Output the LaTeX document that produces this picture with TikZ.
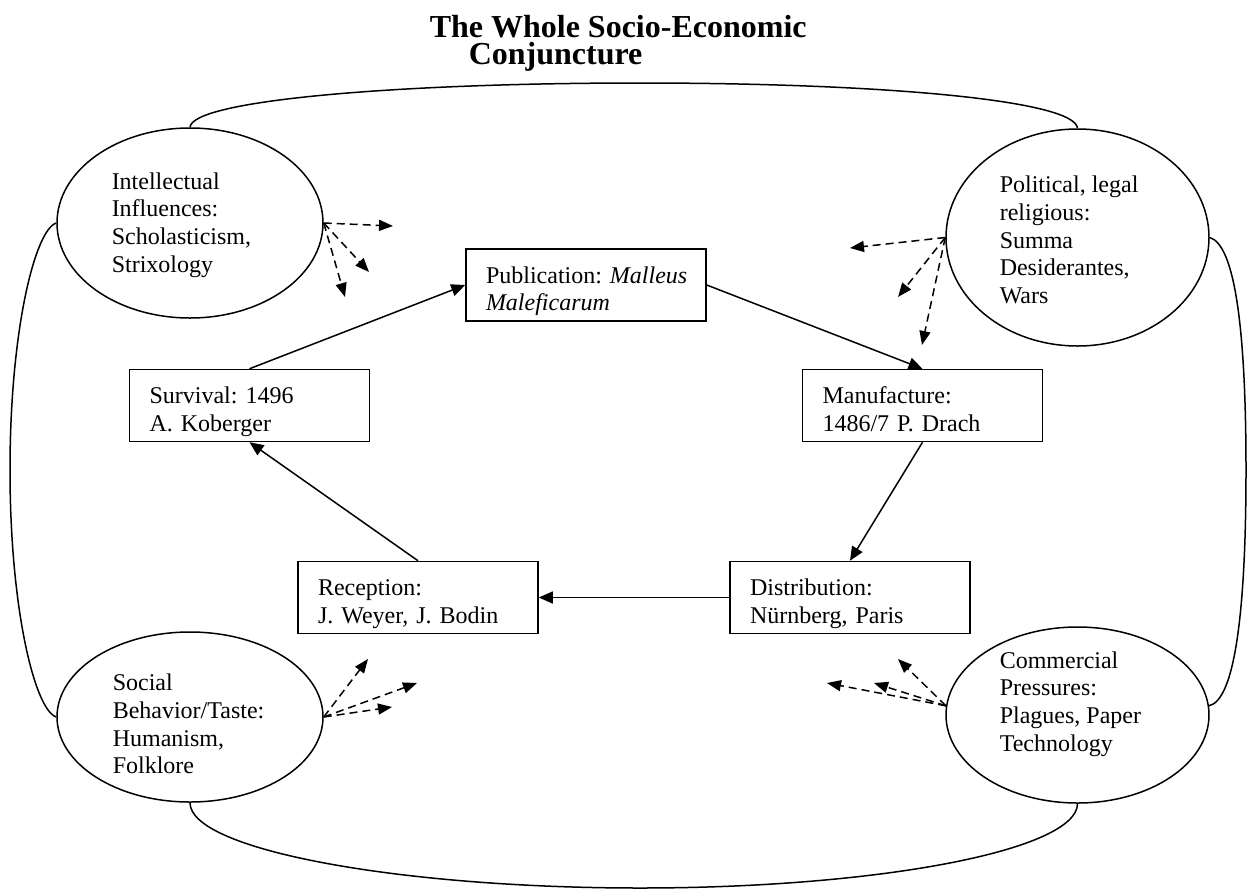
\documentclass[tikz,border=0pt]{standalone}
\usepackage{fontspec}
\setmainfont{Liberation Serif}
\usetikzlibrary{shapes.geometric,arrows.meta}
\frenchspacing

\begin{document}
\begin{tikzpicture}[x=0.5pt,y=-0.5pt,line width=0.75pt,
  stage/.style={draw,rectangle,minimum width=120pt,minimum height=36pt,
    inner xsep=10pt,inner ysep=0pt,text width=100pt,align=left,
    text height=15pt,text depth=17pt,font=\fontsize{12}{13.8}\selectfont},
  force/.style={draw,ellipse,inner sep=0pt},
  forcetext/.style={anchor=west,inner sep=0pt,align=left,font=\fontsize{12}{13.8}\selectfont},
  heading/.style={anchor=base west,inner sep=0pt,font=\fontsize{16}{18}\selectfont\bfseries},
  flow/.style={-{Triangle[length=7pt,width=6pt]}},
  push/.style={dash pattern=on 4pt off 2.5pt,-{Triangle[length=7pt,width=5.5pt]}}]
\useasboundingbox (0,0) rectangle (1248,895);
\clip (0,0) rectangle (1248,895);

\node[heading] (title-a) at (429,37) {The Whole Socio-Economic};
\node[heading] (title-b) at (468,64) {Conjuncture};

\node[force,minimum width=133pt,minimum height=95pt] (intel) at (190,223) {};
\node[force,minimum width=131.5pt,minimum height=108.5pt] (polit) at (1077.5,237.5) {};
\node[force,minimum width=133pt,minimum height=85pt] (social) at (190,717) {};
\node[force,minimum width=131.5pt,minimum height=88pt] (comm) at (1077.5,715) {};

\node[forcetext] (intel-txt) at (111,225) {Intellectual\\Influences:\\Scholasticism,\\Strixology};
\node[forcetext] (polit-txt) at (999,240) {Political, legal\\religious:\\Summa\\Desiderantes,\\Wars};
\node[forcetext] (social-txt) at (112,724) {Social\\Behavior/Taste:\\Humanism,\\Folklore};
\node[forcetext] (comm-txt) at (999,704) {Commercial\\Pressures:\\Plagues, Paper\\Technology};

\node[stage] (pub) at (586,285) {Publication:~\textit{Malleus}\\\textit{Maleficarum}};
\node[stage] (surv) at (249.5,405.5) {Survival: 1496\\A. Koberger};
\node[stage] (manuf) at (922.5,405.5) {Manufacture:\\1486/7 P. Drach};
\node[stage] (recep) at (418,597.5) {Reception:\\J. Weyer, J. Bodin};
\node[stage] (distr) at (850,597.5) {Distribution:\\Nürnberg, Paris};

\draw[flow] (surv.north) -- (pub.west);
\draw[flow] (pub.east) -- (manuf.north);
\draw[flow] (manuf.south) -- (distr.north);
\draw[flow] (distr.west) -- (recep.east);
\draw[flow] (recep.north) -- (surv.south);

\draw (intel.north) .. controls (192,100) and (400,83) .. (640,83)
  .. controls (880,83) and (1075,100) .. (polit.north);
\draw (intel.west) .. controls (35,230) and (10,330) .. (10,470)
  .. controls (10,610) and (35,710) .. (social.west);
\draw (polit.east) .. controls (1235,245) and (1246,330) .. (1246,470)
  .. controls (1246,610) and (1235,700) .. (comm.4);
\draw (social.south) .. controls (190,850) and (400,888) .. (640,888)
  .. controls (880,888) and (1077,850) .. (comm.south);

\coordinate (intel-a) at (393,226);
\coordinate (intel-b) at (369,272);
\coordinate (intel-c) at (345,297);
\coordinate (polit-a) at (850,248);
\coordinate (polit-b) at (898,297);
\coordinate (polit-c) at (922,345);
\coordinate (social-a) at (368,659);
\coordinate (social-b) at (417,683);
\coordinate (social-c) at (392,707);
\coordinate (comm-a) at (898,659);
\coordinate (comm-b) at (827,683);
\coordinate (comm-c) at (874,683);

\draw[push] (intel.east) -- (intel-a);
\draw[push] (intel.east) -- (intel-b);
\draw[push] (intel.east) -- (intel-c);
\draw[push] (polit.west) -- (polit-a);
\draw[push] (polit.west) -- (polit-b);
\draw[push] (polit.west) -- (polit-c);
\draw[push] (social.east) -- (social-a);
\draw[push] (social.east) -- (social-b);
\draw[push] (social.east) -- (social-c);
\draw[push] (comm.176) -- (comm-a);
\draw[push] (comm.176) -- (comm-b);
\draw[push] (comm.176) -- (comm-c);

\end{tikzpicture}
\end{document}
